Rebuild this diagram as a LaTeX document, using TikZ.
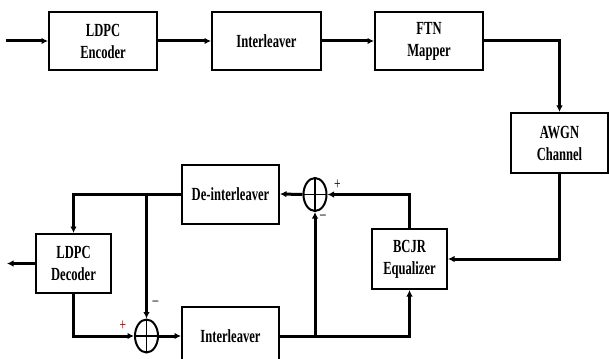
\documentclass[tikz,border=0pt]{standalone}
\usepackage{fontspec}
\setmainfont{Liberation Serif}[FakeStretch=0.68]
\usetikzlibrary{arrows.meta,shapes.geometric}

\tikzset{
    blk/.style={draw, line width=2pt, inner sep=0pt, align=center,
        font=\fontsize{18.5}{22}\selectfont\bfseries},
    wire/.style={line width=3pt},
    sumnode/.style={draw, ellipse, line width=2pt, inner sep=0pt,
        minimum width=23pt, minimum height=33pt,
        path picture={
            \draw[line width=1.5pt] (path picture bounding box.north) -- (path picture bounding box.south);
            \draw[line width=1.5pt] (path picture bounding box.west) -- (path picture bounding box.east);
        }},
    sgn/.style={inner sep=0pt, font=\fontsize{17}{17}\selectfont}
}

\begin{document}
\begin{tikzpicture}[x=1pt, y=-1pt, >={Latex[length=6.5pt,width=6.5pt]}]
            \useasboundingbox (0,0) rectangle (609,358);
            \clip (0,0) rectangle (609,358);

            % ==== TRANSMITTER ====
            \node[blk, minimum width=108pt, minimum height=58pt] (enc) at (103,41) {LDPC\\Encoder};
            \node[blk, minimum width=109pt, minimum height=58pt] (intl) at (266.5,41) {Interleaver};
            \node[blk, minimum width=108pt, minimum height=58pt] (ftn) at (429,41) {FTN\\Mapper};

            % ==== CHANNEL ====
            \node[blk, minimum width=97pt, minimum height=60pt] (awgn) at (559.5,143) {AWGN\\Channel};

            % ==== RECEIVER ====
            \node[blk, minimum width=75pt, minimum height=60pt] (bcjr) at (409.5,259) {BCJR\\Equalizer};
            \node[blk, minimum width=97pt, minimum height=59pt] (deint) at (230.5,194) {De-interleaver};
            \node[blk, minimum width=75pt, minimum height=59pt] (dec) at (73.5,263.5) {LDPC\\Decoder};
            \node[blk, minimum width=97pt, minimum height=59pt] (intr) at (230.5,336) {Interleaver};

            % ==== SUMMERS ====
            \node[sumnode] (sumt) at (315,194.5) {};
            \node[sumnode] (sumb) at (146.5,336) {};
            \node[sgn] (pt) at (337.5,185) {+};
            \node[sgn] (mt) at (323,217) {--};
            \node[sgn, text=red!50!black] (pb) at (123,326) {+};
            \node[sgn] (mb) at (155.5,303) {--};

            % ==== WIRES ====
            \coordinate (in) at (6,41);
            \coordinate (out) at (7,263.5);
            \draw[wire, ->] (in) -- (enc.west);
            \draw[wire, ->] (enc.east) -- (intl.west);
            \draw[wire, ->] (intl.east) -- (ftn.west);
            \draw[wire, ->] (ftn.east) -| (awgn.north);
            \draw[wire, ->] (awgn.south) |- (bcjr.east);
            \draw[wire, ->] (bcjr.north) |- (sumt.east);
            \draw[wire, ->] (sumt.west) -- (deint.east);
            \draw[wire, ->] (deint.west) -| (dec.north);
            \draw[wire, ->] (dec.west) -- (out);
            \draw[wire, ->] (dec.south) |- (sumb.west);
            \draw[wire, ->] (sumb.east) -- (intr.west);
            \draw[wire, ->] (intr.east) -| (bcjr.south);

            % ==== BRANCHES ====
            \coordinate (brt) at (sumb.north |- deint.west);
            \coordinate (brb) at (sumt.south |- intr.east);
            \draw[wire, ->] (brt) -- (sumb.north);
            \draw[wire, ->] (brb) -- (sumt.south);
        \end{tikzpicture}
\end{document}
